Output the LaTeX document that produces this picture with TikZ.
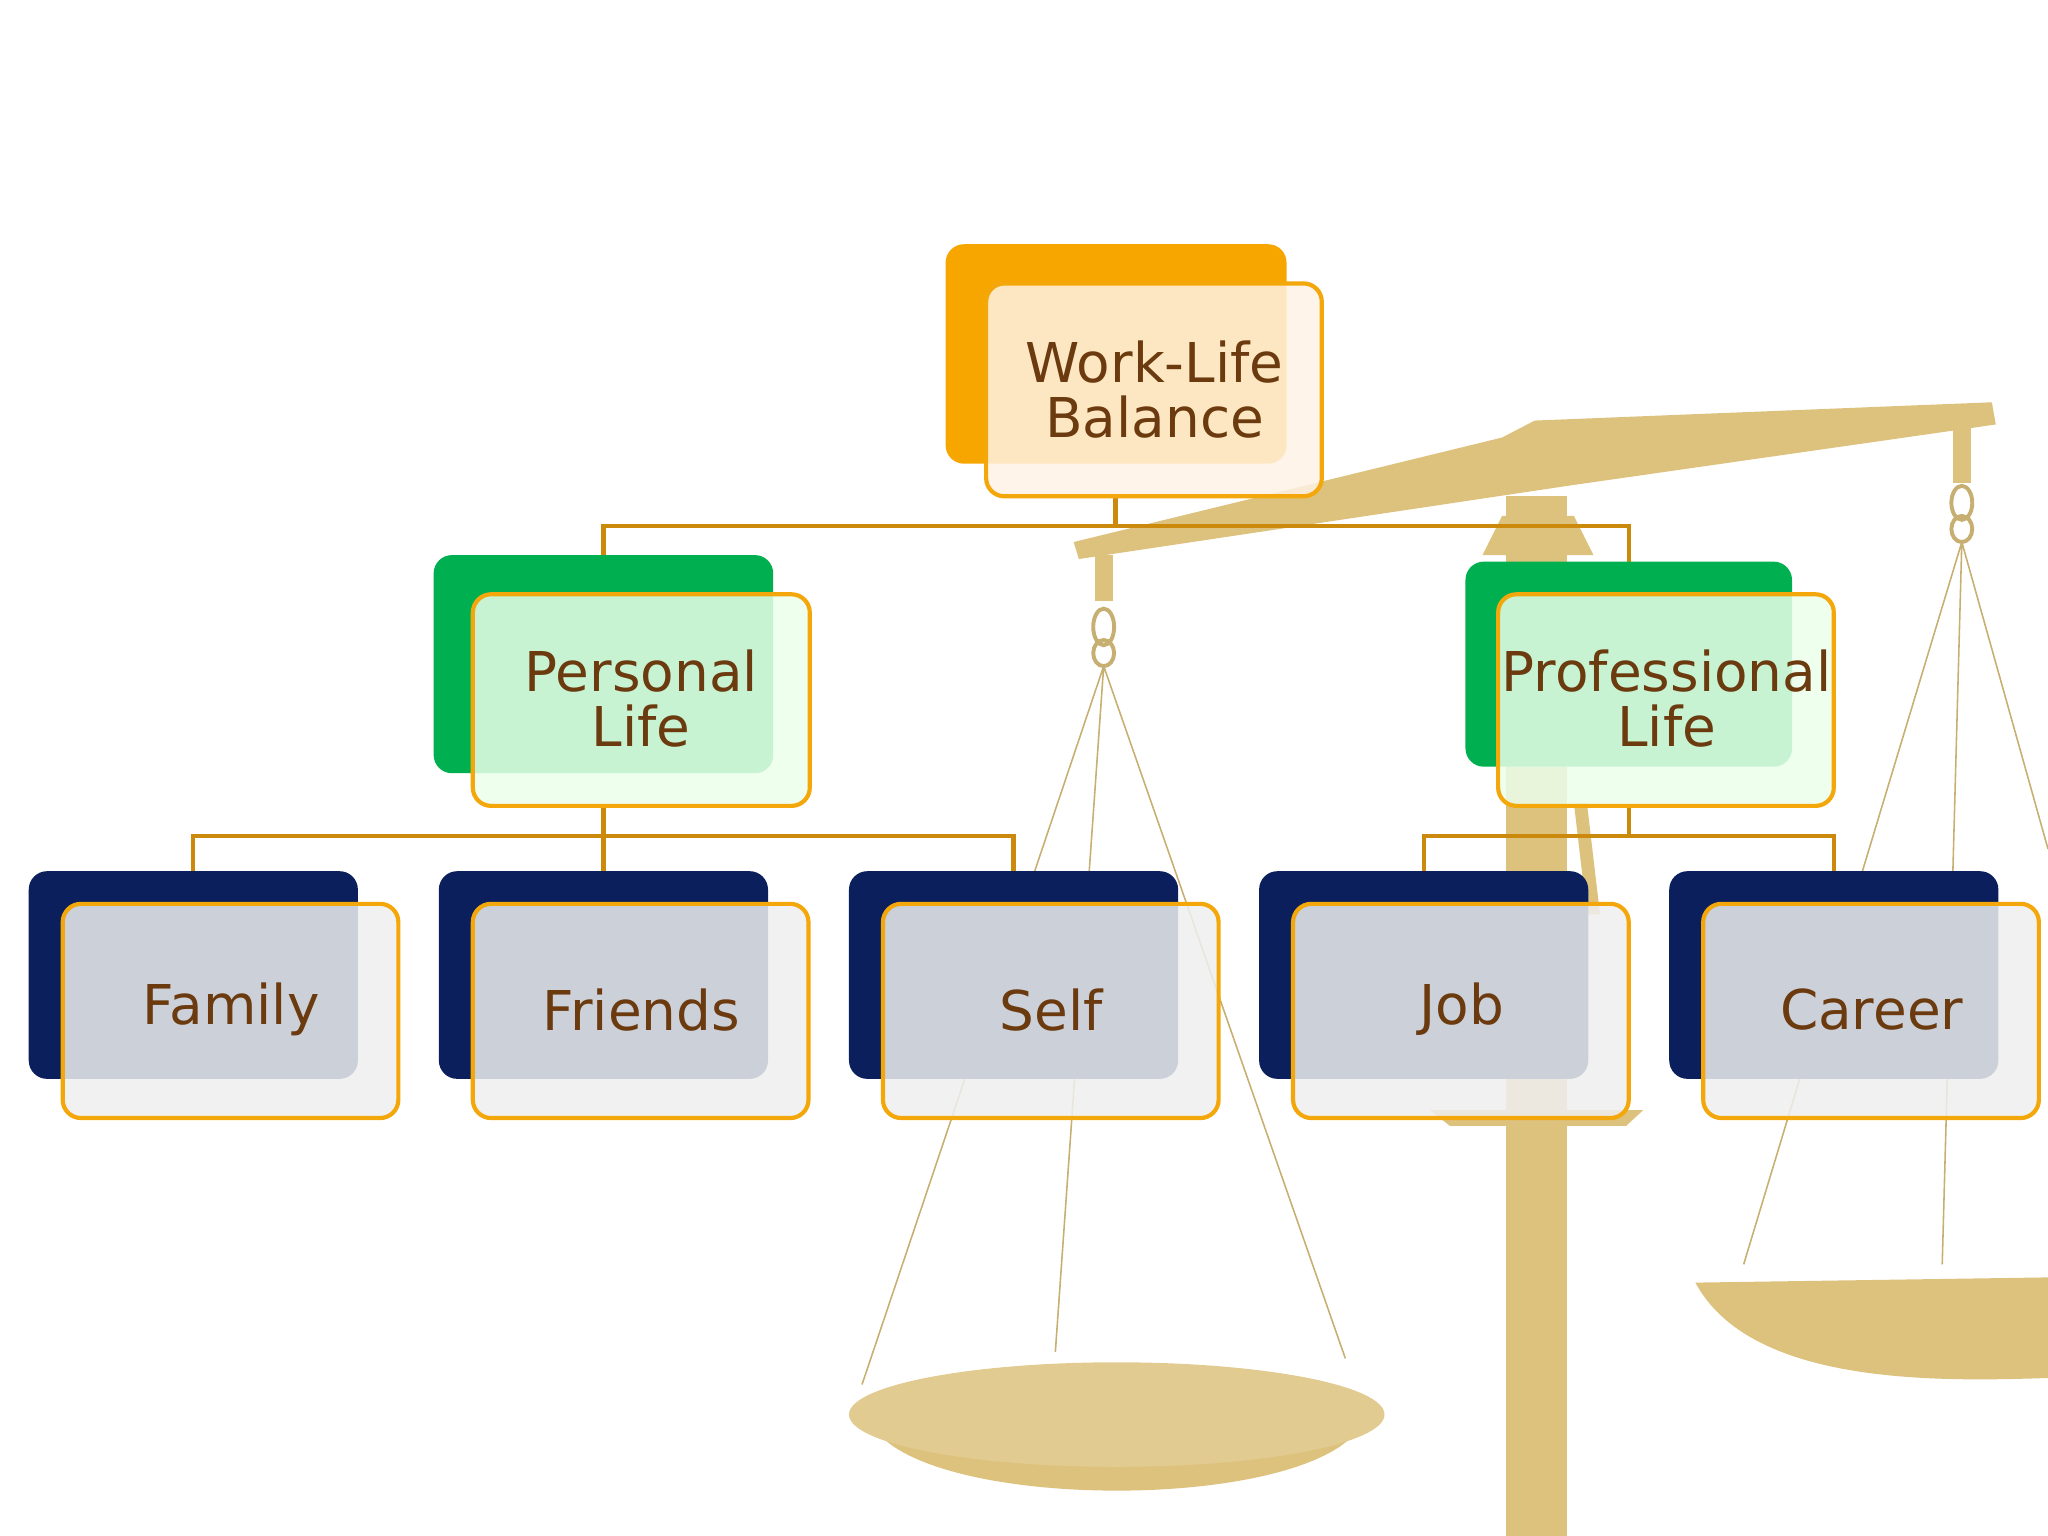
\documentclass[tikz,border=0pt]{standalone}
\usepackage{fontspec}
\setmainfont{DejaVu Sans}
\begin{document}
\begin{tikzpicture}[x=0.5pt,y=-0.5pt,
  tan/.style={fill=tanc,draw=none},
  str/.style={draw=tanc!90!black,line width=0.6pt},
  back/.style={rounded corners=7pt,draw=none},
  front/.style={rounded corners=7pt,draw=boxo,line width=1.6pt,fill opacity=0.85},
  lbl/.style={text=txtc,font=\fontsize{21}{24}\selectfont,align=center},
  conn/.style={draw=connc,line width=1.6pt}]
\definecolor{tanc}{HTML}{DDC27E}
\definecolor{boxo}{HTML}{F4A70A}
\definecolor{orb}{HTML}{F7A600}
\definecolor{grn}{HTML}{00B050}
\definecolor{nvy}{HTML}{0A1F5C}
\definecolor{txtc}{HTML}{6B3A0E}
\definecolor{connc}{HTML}{CC8A0C}
\useasboundingbox (0,0) rectangle (1568,1176);
% scale
\fill[tan] (1153,380) rectangle (1200,1176);
\fill[tan] (1135,425) -- (1150,395) -- (1205,395) -- (1220,425) -- cycle;
\fill[tan] (822,415) -- (1150,335) -- (1175,322) -- (1525,308) -- (1528,325) -- (1200,372) -- (826,428) -- cycle;
\fill[tan] (1205,615) -- (1215,615) -- (1225,700) -- (1215,700) -- cycle;
\fill[tan] (1095,850) -- (1258,850) -- (1245,862) -- (1110,862) -- cycle;
\fill[tan] (838,425) rectangle (852,460);
\draw[str,line width=1.5pt] (845,480) circle[x radius=8,y radius=14] (845,500) circle[x radius=8,y radius=10];
\fill[tan] (1495,325) rectangle (1509,370);
\draw[str,line width=1.5pt] (1502,385) circle[x radius=8,y radius=13] (1502,405) circle[x radius=8,y radius=10];
\draw[str] (845,510) -- (660,1060) (845,510) -- (808,1035) (845,510) -- (1030,1040);
\draw[str] (1502,415) -- (1335,968) (1502,415) -- (1487,968) (1502,415) -- (1568,650);
\fill[tan] (665,1085) .. controls (690,1160) and (1020,1160) .. (1045,1085) -- cycle;
\fill[tanc!85!white] (855,1083) ellipse[x radius=205,y radius=40];
\fill[tan] (1298,982) .. controls (1340,1060) and (1480,1058) .. (1568,1055) -- (1568,978) -- cycle;
% connectors
\draw[conn] (854,380) -- (854,403) (462,455) -- (462,403) -- (1247,403) -- (1247,455);
\draw[conn] (462,617) -- (462,640) (148,667) -- (148,640) -- (776,640) -- (776,667) (462,640) -- (462,667);
\draw[conn] (1247,617) -- (1247,640) (1090,667) -- (1090,640) -- (1404,640) -- (1404,667);
% root
\fill[back,orb] (724,187) rectangle (985,355);
\draw[front,fill=orange!10] (755,217) rectangle (1012,380);
\node[lbl] (root) at (884,298) {Work-Life\\[-3pt]Balance};
% level 2
\fill[back,grn] (332,425) rectangle (592,592);
\draw[front,fill=green!8] (362,455) rectangle (620,617);
\node[lbl] (pers) at (491,535) {Personal\\[-3pt]Life};
\fill[back,grn] (1122,430) rectangle (1372,587);
\draw[front,fill=green!8] (1147,455) rectangle (1404,617);
\node[lbl] (prof) at (1276,535) {Professional\\[-3pt]Life};
% leaves
\foreach \x/\t/\n in {22/Family/fam,336/Friends/fri,650/Self/sel,964/Job/job,1278/Career/car}{
  \fill[back,nvy] (\x,667) rectangle (\x+252,826);
  \draw[front,fill=blue!5!gray!12] (\x+26,692) rectangle (\x+283,856);
  \node[lbl] (\n) at (\x+155,773) {\t};
}
\end{tikzpicture}
\end{document}
